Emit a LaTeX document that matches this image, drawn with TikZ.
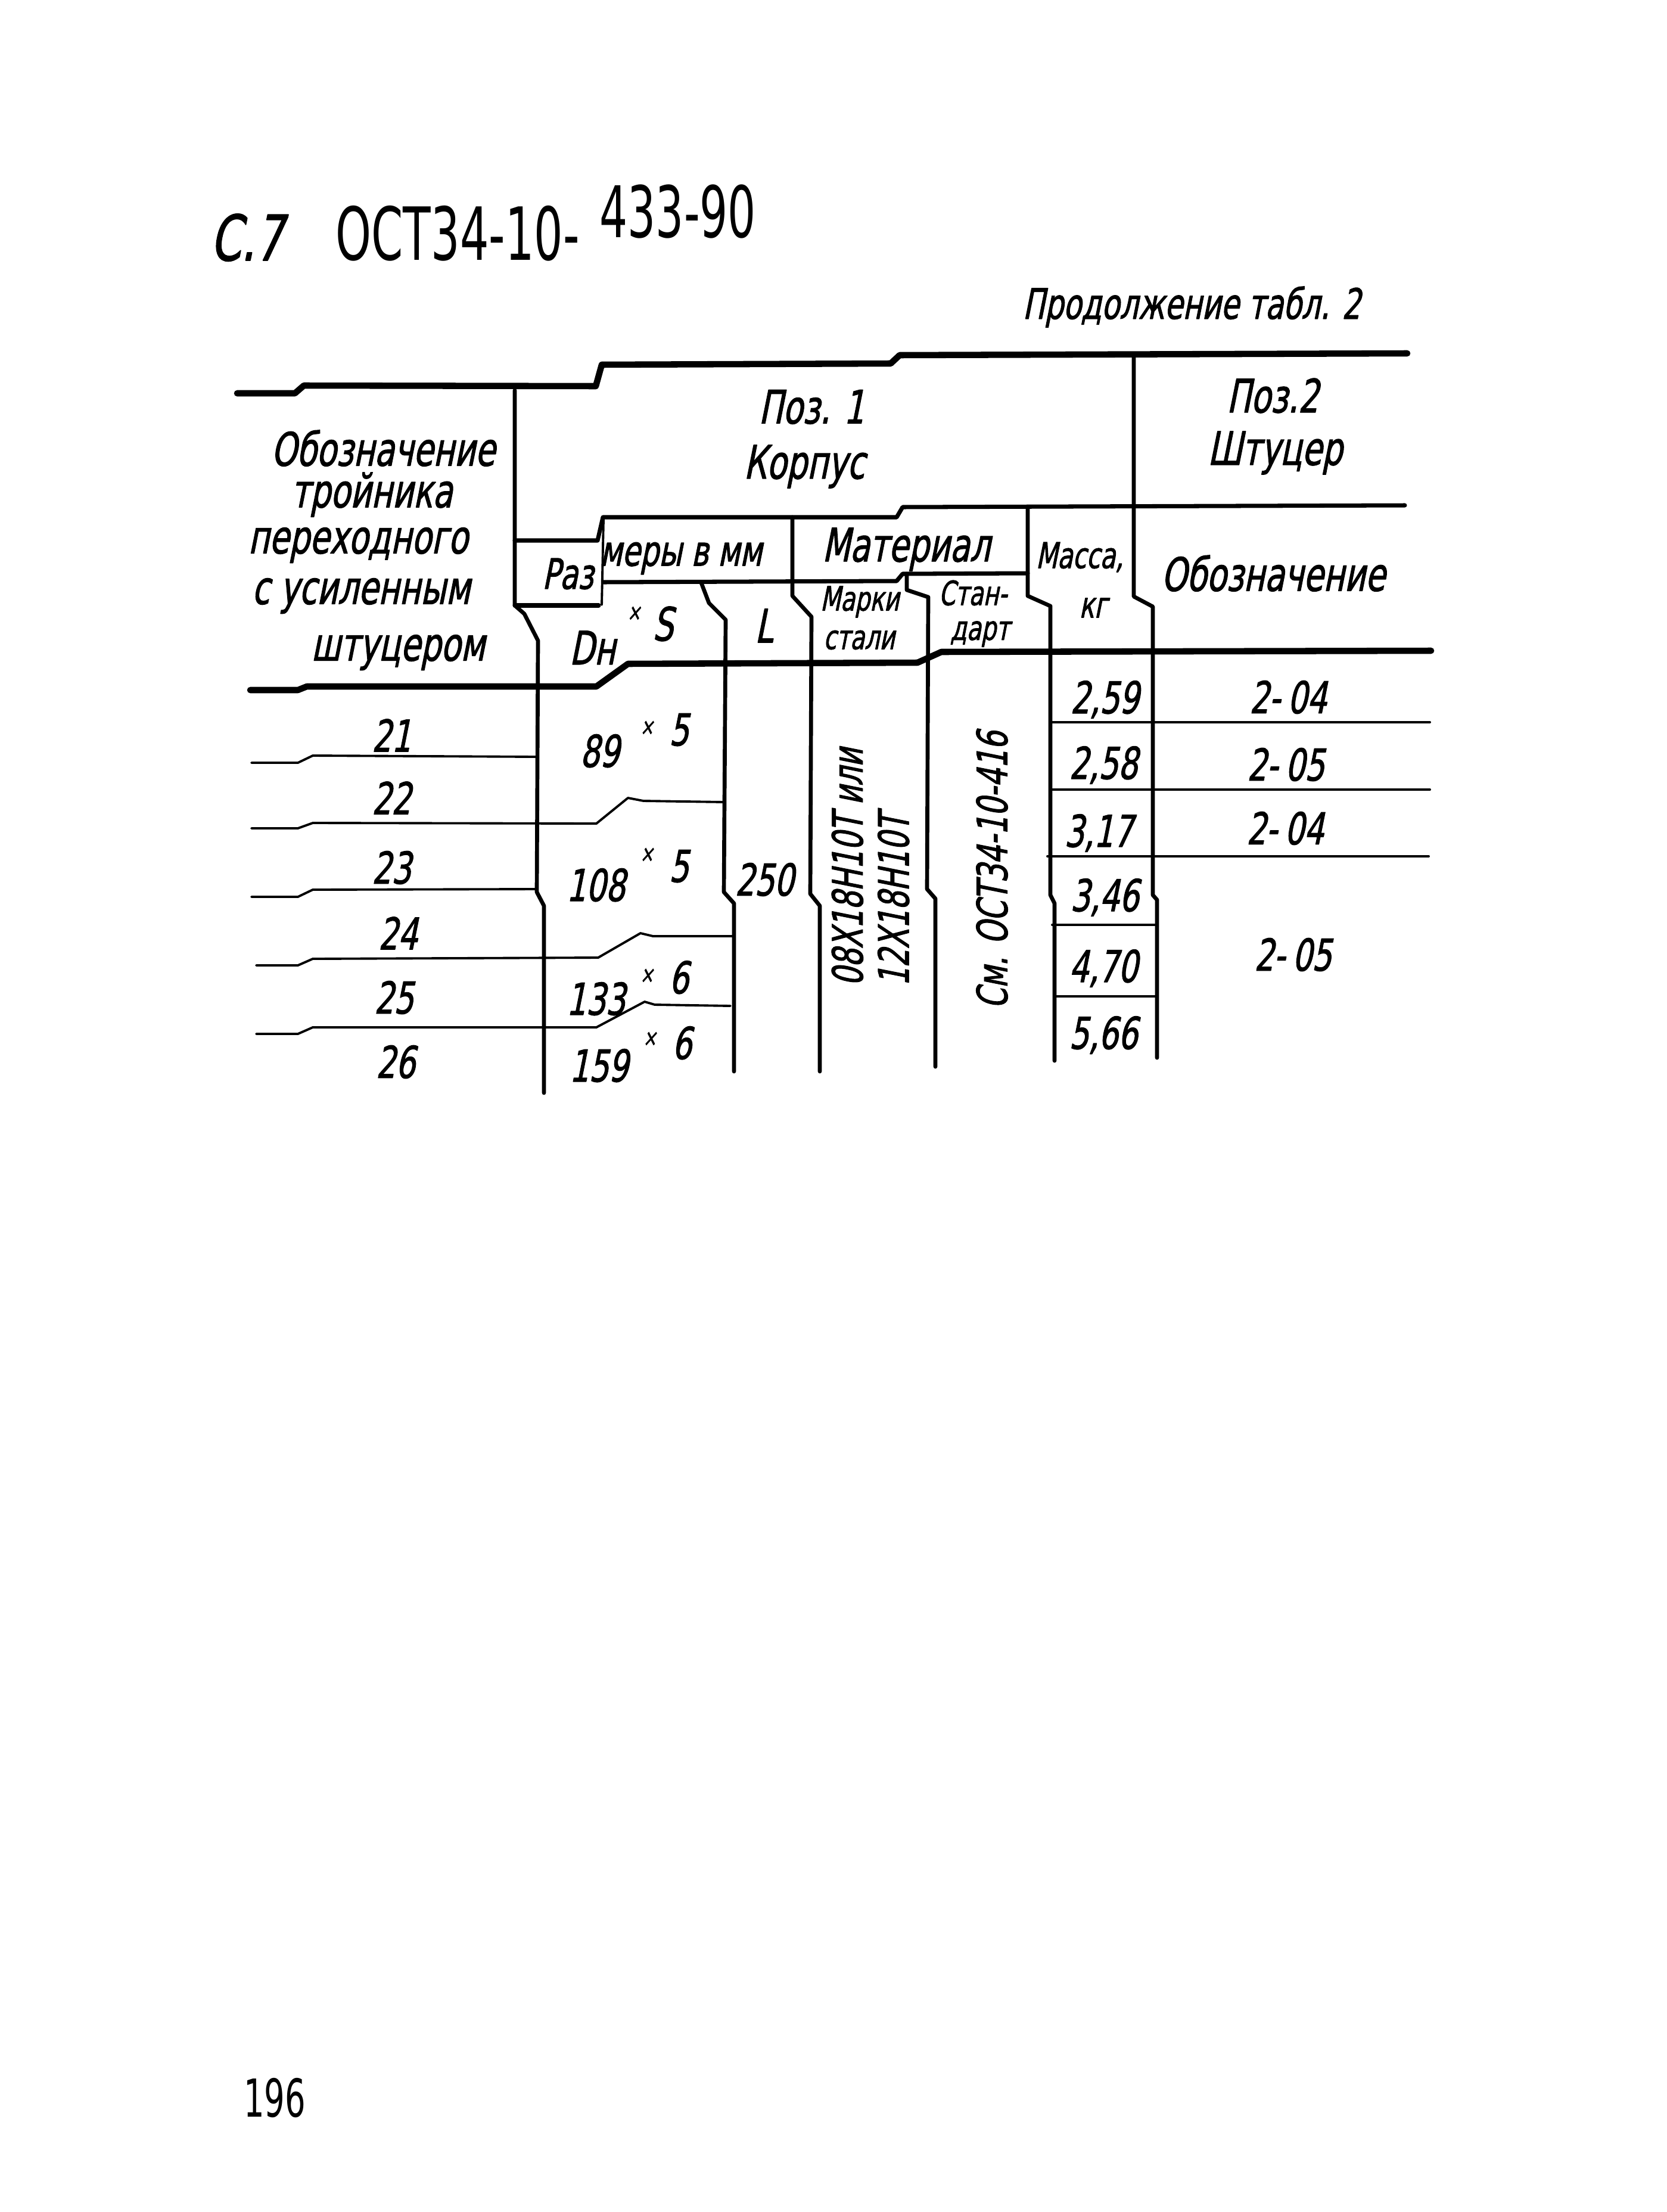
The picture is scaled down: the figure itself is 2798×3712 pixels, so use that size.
\documentclass[tikz,border=0pt]{standalone}
\usepackage{fontspec}
\setmainfont{DejaVu Sans}
\newfontfamily\hand{DejaVu Sans}[FakeStretch=0.7,FakeSlant=0.2,FakeBold=1.5]
\newfontfamily\stamp{DejaVu Sans}[FakeStretch=0.62]

\begin{document}
\begin{tikzpicture}[x=0.1mm, y=-0.1mm, line join=round, line cap=round,
	head/.style={font=\hand\fontsize{22}{26}\selectfont, inner sep=0pt},
	cell/.style={font=\hand\fontsize{21}{25}\selectfont, inner sep=0pt},
	subhead/.style={font=\hand\fontsize{16}{19}\selectfont, inner sep=0pt},
	boldrule/.style={line width=3pt},
	midrule/.style={line width=2pt},
	thinrule/.style={line width=1.1pt},
	colrule/.style={line width=1.9pt}]
	\useasboundingbox (0,0) rectangle (2798,3712);

	\node[font=\hand\fontsize{30}{30}\selectfont, anchor=base, inner sep=0pt] (sheet) at (414,437) {С.7};
	\node[font=\stamp\fontsize{35}{35}\selectfont, anchor=base west, inner sep=0pt] (std) at (563,437) {ОСТ34-10-};
	\node[font=\stamp\fontsize{34}{34}\selectfont, anchor=base west, inner sep=0pt] (stdnum) at (1006,398) {433-90};
	\node[head, font=\hand\fontsize{20}{24}\selectfont] (cont) at (2000,515) {Продолжение табл. 2};

	\draw[boldrule] (398,660) -- (495,660) -- (510,647) -- (1000,648) -- (1010,612) -- (1495,610) -- (1510,596) -- (2362,593);
	\draw[midrule] (864,907) -- (1003,907) -- (1012,868) -- (1505,868) -- (1515,851) -- (2358,848);
	\draw[thinrule] (1013,870) -- (1010,1015);
	\draw[midrule] (864,1016) -- (1005,1016);
	\draw[midrule] (1013,977) -- (1505,975) -- (1515,963) -- (1725,962);
	\draw[boldrule] (420,1158) -- (500,1158) -- (515,1152) -- (1001,1152) -- (1054,1114) -- (1540,1112) -- (1580,1094) -- (2402,1092);

	\draw[colrule] (864,655) -- (864,1016) -- (880,1030) -- (903,1075) -- (901,1497) -- (913,1520) -- (913,1834);
	\draw[colrule] (1177,978) -- (1190,1012) -- (1218,1040) -- (1215,1497) -- (1232,1516) -- (1232,1798);
	\draw[colrule] (1330,868) -- (1330,1000) -- (1362,1035) -- (1360,1500) -- (1376,1520) -- (1376,1798);
	\draw[colrule] (1522,963) -- (1522,990) -- (1558,1002) -- (1556,1492) -- (1570,1508) -- (1570,1790);
	\draw[colrule] (1725,854) -- (1725,1000) -- (1763,1017) -- (1763,1502) -- (1770,1516) -- (1770,1780);
	\draw[colrule] (1903,595) -- (1903,1001) -- (1935,1018) -- (1935,1502) -- (1942,1510) -- (1942,1775);

	\draw[thinrule] (422,1280) -- (500,1280) -- (525,1268) -- (901,1270);
	\draw[thinrule] (422,1390) -- (500,1390) -- (525,1381) -- (1001,1382) -- (1054,1339) -- (1080,1344) -- (1215,1346);
	\draw[thinrule] (422,1505) -- (500,1505) -- (525,1493) -- (901,1492);
	\draw[thinrule] (430,1620) -- (500,1620) -- (525,1609) -- (1004,1607) -- (1075,1566) -- (1096,1571) -- (1229,1571);
	\draw[thinrule] (430,1735) -- (500,1735) -- (525,1724) -- (1001,1724) -- (1082,1681) -- (1099,1686) -- (1226,1688);

	\draw[thinrule] (1763,1212) -- (2400,1212);
	\draw[thinrule] (1763,1325) -- (2400,1325);
	\draw[thinrule] (1758,1437) -- (2398,1437);
	\draw[thinrule] (1766,1552) -- (1938,1552);
	\draw[thinrule] (1770,1672) -- (1942,1672);

	\node[head] (hd1) at (643,752) {Обозначение};
	\node[head] (hd2) at (624,830) {тройника};
	\node[head] (hd3) at (601,915) {переходного};
	\node[head] (hd4) at (606,1000) {с усиленным};
	\node[head] (hd5) at (668,1095) {штуцером};
	\node[head] (pos1) at (1362,683) {Поз. 1};
	\node[head] (body) at (1350,783) {Корпус};
	\node[head] (pos2) at (2136,664) {Поз.2};
	\node[head] (nozzle) at (2140,760) {Штуцер};
	\node[head, font=\hand\fontsize{20}{24}\selectfont] (sizea) at (953,963) {Раз};
	\node[head, font=\hand\fontsize{20}{24}\selectfont] (sizeb) at (1143,937) {меры в мм};
	\node[head] (mat) at (1521,922) {Материал};
	\node[subhead, font=\hand\fontsize{17}{20}\selectfont] (mass) at (1812,935) {Масса,};
	\node[subhead, font=\hand\fontsize{17}{20}\selectfont] (kg) at (1835,1020) {кг};
	\node[head] (desig) at (2137,962) {Обозначение};
	\node[head, anchor=base west] (dns) at (955,1115) {Dн\hspace{2mm}\raisebox{7.4mm}{\fontsize{11}{11}\selectfont ×}\hspace{2mm}\raisebox{4mm}{S}};
	\node[head] (len) at (1282,1050) {L};
	\node[subhead] (grade) at (1443,1010) {Марки};
	\node[subhead] (steel) at (1442,1074) {стали};
	\node[subhead] (stda) at (1633,995) {Стан-};
	\node[subhead] (stdb) at (1645,1064) {дарт};

	\node[cell] (n21) at (657,1234) {21};
	\node[cell] (n22) at (657,1339) {22};
	\node[cell] (n23) at (657,1456) {23};
	\node[cell] (n24) at (668,1566) {24};
	\node[cell] (n25) at (661,1674) {25};
	\node[cell] (n26) at (664,1782) {26};

	\node[cell, anchor=base west] (d89) at (973,1287) {89\hspace{3.5mm}\raisebox{5.4mm}{\fontsize{11}{11}\selectfont ×}\hspace{2.6mm}\raisebox{3.6mm}{5}};
	\node[cell, anchor=base west] (d108) at (950,1512) {108\hspace{2.5mm}\raisebox{6.6mm}{\fontsize{11}{11}\selectfont ×}\hspace{2.6mm}\raisebox{3.2mm}{5}};
	\node[cell, anchor=base west] (d133) at (950,1703) {133\hspace{2.5mm}\raisebox{5.4mm}{\fontsize{11}{11}\selectfont ×}\hspace{2.6mm}\raisebox{3.6mm}{6}};
	\node[cell, anchor=base west] (d159) at (955,1815) {159\hspace{2.5mm}\raisebox{6mm}{\fontsize{11}{11}\selectfont ×}\hspace{2.6mm}\raisebox{3.8mm}{6}};
	\node[cell] (l250) at (1283,1476) {250};

	\node[cell, font=\hand\fontsize{20}{22}\selectfont, rotate=90, align=left] (grades) at (1461,1455) {08Х18Н10Т  или\\12Х18Н10Т};
	\node[cell, font=\hand\fontsize{20}{22}\selectfont, rotate=90] (ost) at (1665,1460) {См. ОСТ34-10-416};

	\node[cell] (m1) at (1854,1174) {2,59};
	\node[cell] (m2) at (1852,1284) {2,58};
	\node[cell] (m3) at (1844,1398) {3,17};
	\node[cell] (m4) at (1854,1506) {3,46};
	\node[cell] (m5) at (1852,1625) {4,70};
	\node[cell] (m6) at (1852,1737) {5,66};

	\node[cell] (p1) at (2162,1170) {2-\,04};
	\node[cell] (p2) at (2158,1283) {2-\,05};
	\node[cell] (p3) at (2157,1390) {2-\,04};
	\node[cell] (p4) at (2170,1602) {2-\,05};

	\node[font=\stamp\fontsize{25}{25}\selectfont, inner sep=0pt] (folio) at (461,3520) {196};
\end{tikzpicture}
\end{document}
